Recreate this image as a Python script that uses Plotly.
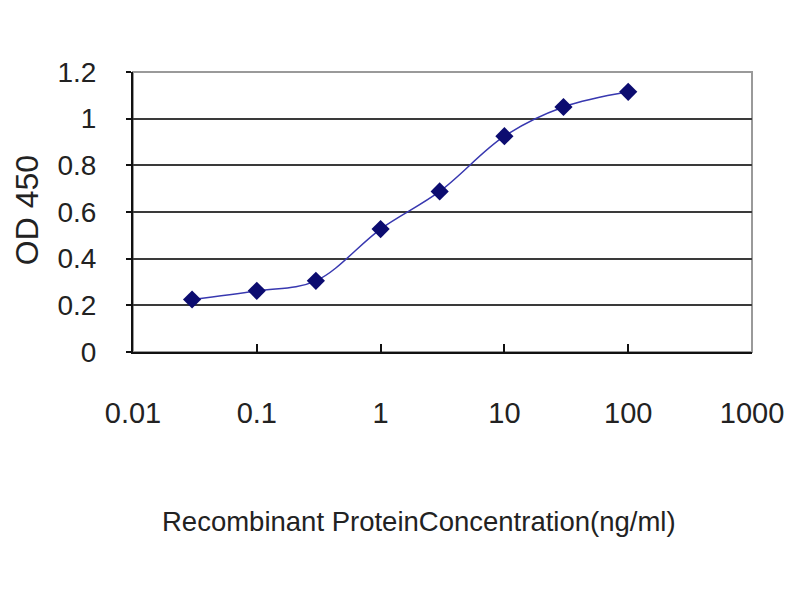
import plotly.graph_objects as go

# concentration (ng/ml) vs OD 450
concentration = [0.03, 0.1, 0.3, 1, 3, 10, 30, 100]
od450 = [0.225, 0.262, 0.305, 0.527, 0.688, 0.925, 1.05, 1.115]

x_ticks = [0.01, 0.1, 1, 10, 100, 1000]
x_tick_text = ['0.01', '0.1', '1', '10', '100', '1000']
y_ticks = [0, 0.2, 0.4, 0.6, 0.8, 1, 1.2]
y_tick_text = ['0', '0.2', '0.4', '0.6', '0.8', '1', '1.2']

x_title = 'Recombinant ProteinConcentration(ng/ml)'
y_title = 'OD 450'

narrow = 'Liberation Sans Narrow, Arial Narrow, Liberation Sans, Arial, sans-serif'

fig = go.Figure()
fig.add_trace(go.Scatter(x=concentration, y=od450, mode='lines+markers',
                         line={'color': '#3838b0', 'width': 1.5, 'shape': 'spline', 'smoothing': 1},
                         marker={'symbol': 'diamond', 'size': 14, 'color': '#0c0c70'},
                         showlegend=False))

# frame of the plot area (grey top / right edges)
fig.add_shape(type='rect', xref='paper', yref='paper', x0=0, x1=1, y0=0, y1=1,
              line={'color': '#9a9a9a', 'width': 2}, layer='below')

# axis titles as annotations so they sit where the original puts them
fig.add_annotation(text=x_title, xref='paper', yref='paper', x=0.462, y=-0.607,
                   xanchor='center', yanchor='middle', showarrow=False,
                   font={'size': 27.5})
fig.add_annotation(text=y_title, xref='paper', yref='paper', x=-0.171, y=0.507,
                   xanchor='center', yanchor='middle', showarrow=False, textangle=-90,
                   font={'size': 32})

fig.update_layout(
    width=800, height=600,
    paper_bgcolor='white', plot_bgcolor='white',
    margin={'l': 125, 'r': 56, 't': 64, 'b': 256},
    font={'family': narrow, 'size': 28, 'color': '#222222'},
    xaxis={'type': 'log', 'range': [-2, 3],
           'tickmode': 'array', 'tickvals': x_ticks, 'ticktext': x_tick_text,
           'showgrid': False, 'showline': True, 'linecolor': '#111111', 'linewidth': 2,
           'ticks': 'inside', 'ticklen': 8, 'tickwidth': 2, 'tickcolor': '#111111',
           'tickfont': {'size': 29}, 'ticklabelstandoff': 34},
    yaxis={'range': [0, 1.2],
           'tickmode': 'array', 'tickvals': y_ticks, 'ticktext': y_tick_text,
           'showgrid': True, 'gridcolor': '#3a3a3a', 'gridwidth': 2,
           'zeroline': False,
           'showline': True, 'linecolor': '#111111', 'linewidth': 2,
           'ticks': 'outside', 'ticklen': 5, 'tickwidth': 2, 'tickcolor': '#111111',
           'tickfont': {'size': 28}, 'ticklabelstandoff': 24},
)

fig.write_html("out.html")
